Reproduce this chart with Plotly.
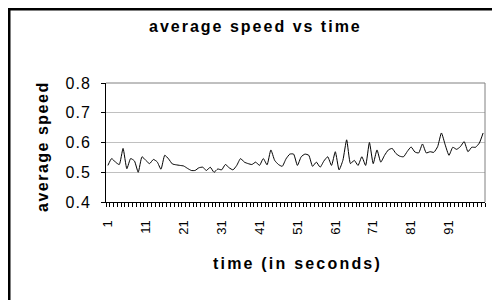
import plotly.graph_objects as go

time_s = list(range(1, 101))
avg_speed = [
    0.523, 0.546, 0.534, 0.526, 0.580, 0.512, 0.546, 0.538, 0.500, 0.552,
    0.540, 0.529, 0.543, 0.535, 0.510, 0.557, 0.545, 0.528, 0.525, 0.523,
    0.521, 0.513, 0.506, 0.506, 0.515, 0.517, 0.506, 0.517, 0.500, 0.511,
    0.508, 0.526, 0.515, 0.508, 0.523, 0.546, 0.534, 0.529, 0.526, 0.534,
    0.523, 0.546, 0.525, 0.575, 0.540, 0.526, 0.520, 0.545, 0.561, 0.561,
    0.523, 0.552, 0.561, 0.557, 0.520, 0.534, 0.517, 0.538, 0.552, 0.523,
    0.569, 0.508, 0.540, 0.609, 0.529, 0.540, 0.523, 0.552, 0.523, 0.600,
    0.529, 0.575, 0.534, 0.557, 0.575, 0.580, 0.563, 0.554, 0.552, 0.570,
    0.585, 0.568, 0.565, 0.595, 0.565, 0.569, 0.567, 0.586, 0.632, 0.592,
    0.557, 0.584, 0.577, 0.586, 0.603, 0.569, 0.584, 0.584, 0.598, 0.632,
]
x_tickvals = list(range(1, 101, 10))
x_ticktext = [str(v) for v in x_tickvals]
y_tickvals = [0.4, 0.5, 0.6, 0.7, 0.8]

title_text = "average speed vs time"
x_title = "time (in seconds)"
y_title = "average speed"

OFF = 8  # page body margin
W, H = 500, 300
L, T = 106 - OFF, 83 - OFF
R = W - (485 - OFF)
B = H - (202 - OFF)
pw, ph = W - L - R, H - T - B


def px(xp):  # page x -> paper x
    return (xp - OFF - L) / pw


def py(yp):  # page y -> paper y
    return (H - B - (yp - OFF)) / ph


def spaced(s, sp):
    return f'<span style="letter-spacing:{sp}px">{s}</span>'


fig = go.Figure()
fig.add_trace(go.Scatter(
    x=time_s, y=avg_speed, mode="lines",
    line=dict(color="black", width=1, shape="spline", smoothing=0.5),
    hoverinfo="skip", showlegend=False,
))

fig.update_layout(
    width=W, height=H,
    margin=dict(l=L, r=R, t=T, b=B, pad=0),
    paper_bgcolor="white", plot_bgcolor="white",
    font=dict(family="Arial, Liberation Sans, sans-serif", color="black"),
    showlegend=False,
    xaxis=dict(
        range=[0.5, 100.5], tickmode="array", tickvals=x_tickvals, ticktext=x_ticktext,
        tickangle=-90, ticks="", tickfont=dict(size=13), ticklabelstandoff=12,
        showgrid=False, zeroline=False, showline=True, linecolor="black", linewidth=1,
        minor=dict(tickmode="linear", tick0=0.5, dtick=1, ticks="outside", ticklen=4,
                   tickcolor="black", tickwidth=1, showgrid=False),
    ),
    yaxis=dict(
        range=[0.4, 0.8], tickmode="array", tickvals=y_tickvals,
        ticktext=[spaced(f"{v:.1f}", 1) for v in y_tickvals],
        ticks="outside", ticklen=4, tickcolor="black", tickfont=dict(size=16),
        ticklabelstandoff=7,
        showgrid=True, gridcolor="#c0c0c0", gridwidth=1, zeroline=False,
        showline=True, linecolor="black", linewidth=1,
    ),
    shapes=[
        dict(type="line", xref="paper", yref="paper", x0=0, x1=1, y0=1, y1=1,
             line=dict(color="#808080", width=1)),
        dict(type="line", xref="paper", yref="paper", x0=1, x1=1, y0=0, y1=1,
             line=dict(color="#808080", width=1)),
        dict(type="line", xref="paper", yref="paper", x0=px(9), x1=px(9), y0=py(8), y1=py(320),
             line=dict(color="black", width=3)),
        dict(type="line", xref="paper", yref="paper", x0=px(8), x1=px(520), y0=py(9), y1=py(9),
             line=dict(color="black", width=3)),
    ],
    annotations=[
        dict(text=f"<b>{spaced(title_text, 2)}</b>", xref="paper", yref="paper",
             x=px(255), y=py(27), xanchor="center", yanchor="middle",
             showarrow=False, font=dict(size=16)),
        dict(text=f"<b>{spaced(x_title, 2.2)}</b>", xref="paper", yref="paper",
             x=px(297), y=py(263), xanchor="center", yanchor="middle",
             showarrow=False, font=dict(size=16)),
        dict(text=f"<b>{spaced(y_title, 1.5)}</b>", xref="paper", yref="paper",
             x=px(42), y=py(147), xanchor="center", yanchor="middle", textangle=-90,
             showarrow=False, font=dict(size=16)),
    ],
)

fig.write_html("out.html")
